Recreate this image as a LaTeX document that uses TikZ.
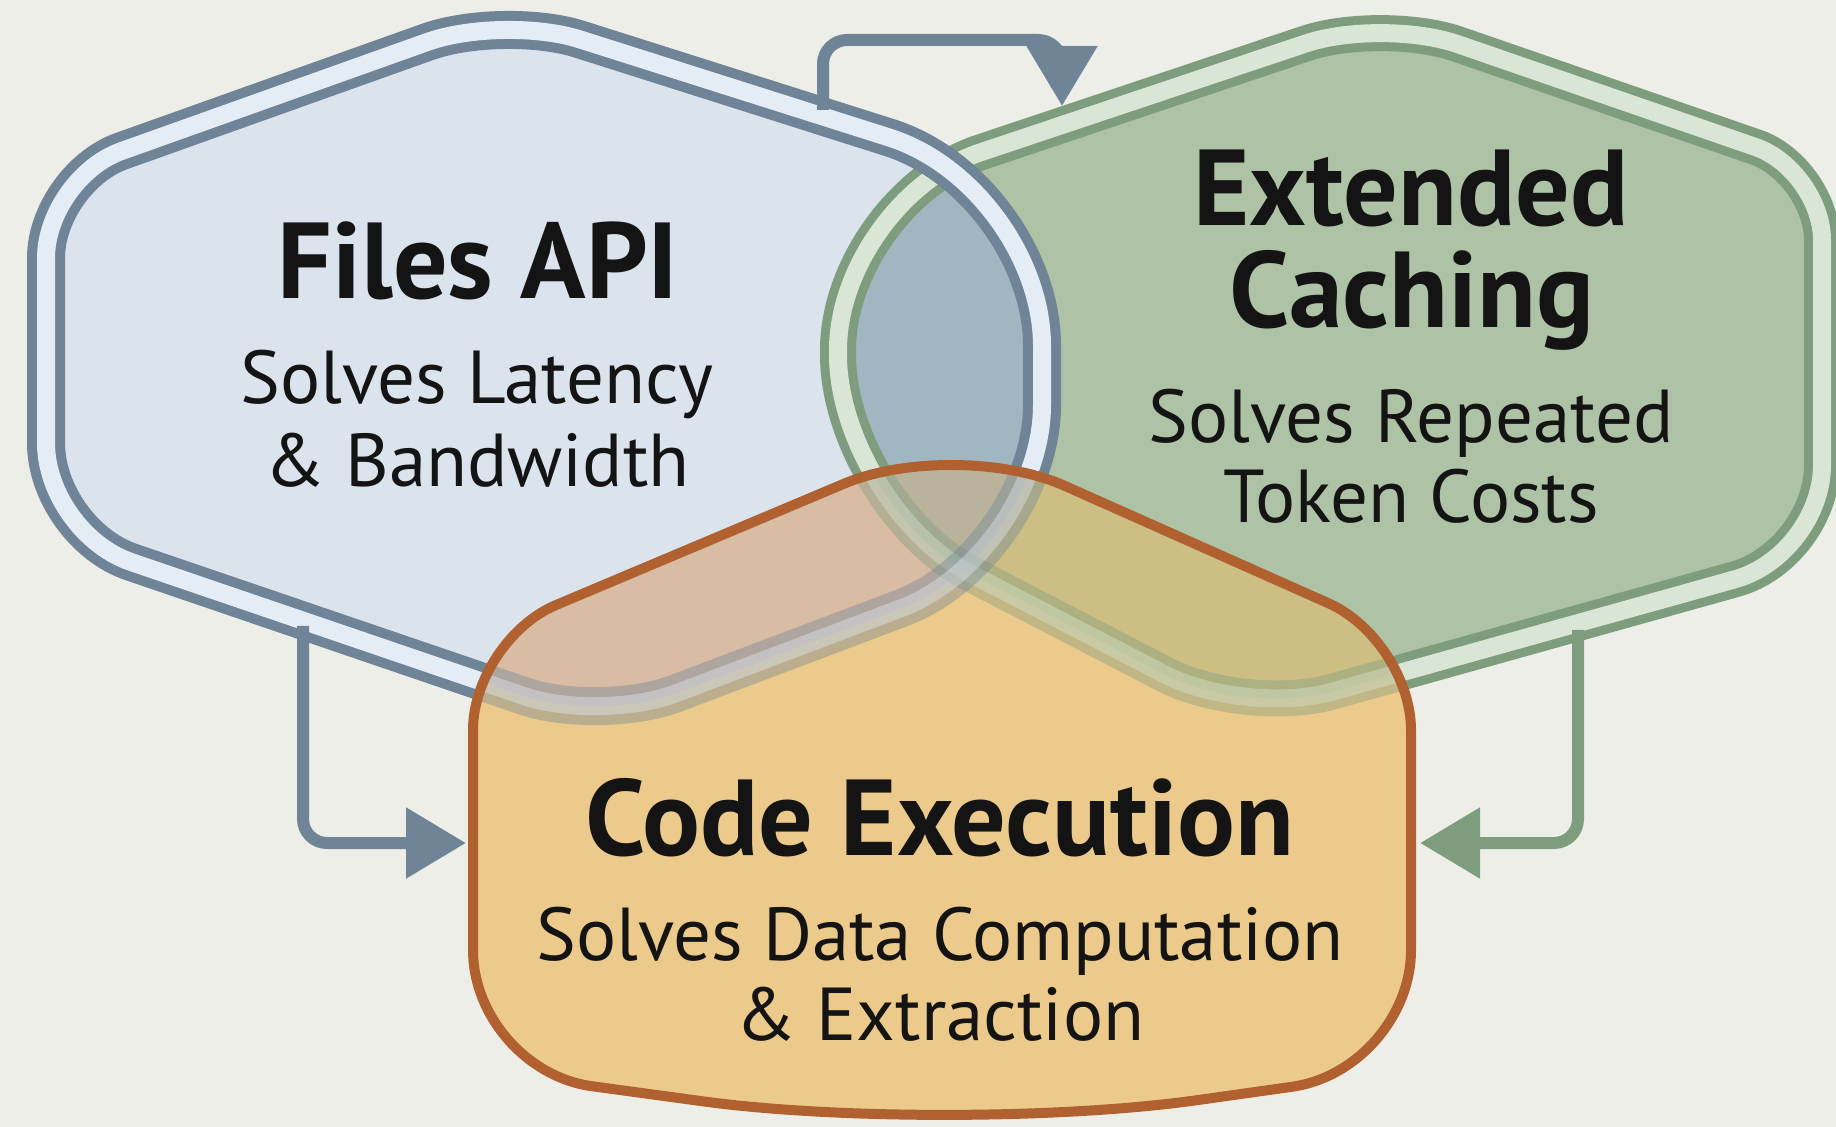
\documentclass[tikz,border=0pt]{standalone}
\usepackage{fontspec}
\setmainfont{PT Sans}
\usetikzlibrary{calc,arrows.meta}
\definecolor{bgc}{HTML}{EDEEE7}
\definecolor{bluefill}{HTML}{DBE3ED}
\definecolor{blueband}{HTML}{E4ECF6}
\definecolor{blueline}{HTML}{6F8497}
\definecolor{greenfill}{HTML}{AEC2A5}
\definecolor{greenband}{HTML}{DAE6D5}
\definecolor{greenline}{HTML}{7E9C7E}
\definecolor{orangefill}{HTML}{ECCA8B}
\definecolor{orangeline}{HTML}{B1612F}
\definecolor{bgov}{HTML}{A0B7C1}
\definecolor{boov}{HTML}{D8BCA4}
\definecolor{goov}{HTML}{CDBF84}
\definecolor{triov}{HTML}{B9B39C}
\definecolor{ink}{HTML}{141414}
% rounded corner: prev, vertex, next, cut distance, control distance
\newcommand{\rc}[5]{-- ($(#2)!#4!(#1)$) .. controls ($(#2)!#5!(#1)$) and ($(#2)!#5!(#3)$) .. ($(#2)!#4!(#3)$)}
\def\bluepath{($(bUL)!0.5!(bT)$) \rc{bUL}{bT}{bUR}{40pt}{18pt} \rc{bT}{bUR}{bLR}{80pt}{36pt} \rc{bUR}{bLR}{bB}{75pt}{34pt} \rc{bLR}{bB}{bLL}{40pt}{18pt} \rc{bB}{bLL}{bUL}{45pt}{20pt} \rc{bLL}{bUL}{bT}{40pt}{18pt} -- cycle}
\def\greenpath{($(gUL)!0.5!(gT)$) \rc{gUL}{gT}{gUR}{40pt}{18pt} \rc{gT}{gUR}{gLR}{35pt}{16pt} \rc{gUR}{gLR}{gB}{45pt}{20pt} \rc{gLR}{gB}{gLL}{45pt}{20pt} \rc{gB}{gLL}{gUL}{75pt}{34pt} \rc{gLL}{gUL}{gT}{75pt}{34pt} -- cycle}
\def\orangepath{($(oUL)!0.5!(oT)$) \rc{oUL}{oT}{oUR}{60pt}{27pt} \rc{oT}{oUR}{oLR}{45pt}{20pt} \rc{oUR}{oLR}{oB}{60pt}{27pt} \rc{oLR}{oB}{oLL}{125pt}{56pt} \rc{oB}{oLL}{oUL}{60pt}{27pt} \rc{oLL}{oUL}{oT}{45pt}{20pt} -- cycle}
\tikzset{
 bline/.style={draw=blueline, line width=5pt, double=blueband, double distance=9pt, line join=round},
 gline/.style={draw=greenline, line width=4.5pt, double=greenband, double distance=9pt, line join=round},
 oline/.style={draw=orangeline, line width=5pt, line join=round},
 conn/.style={line width=6pt, rounded corners=12pt, -{Triangle[length=30pt,width=34pt]}},
 ttl/.style={anchor=base, text=ink, font=\bfseries\fontsize{54}{60}\selectfont},
 subt/.style={anchor=base, text=ink, font=\fontsize{37.5}{45}\selectfont},
}
\begin{document}
\begin{tikzpicture}[x=0.5pt,y=-0.5pt]
\useasboundingbox (0,0) rectangle (1836,1127);
\fill[bgc] (0,0) rectangle (1836,1127);
% shape vertices
\coordinate (bT) at (503,15);
\coordinate (bUR) at (1042,186);
\coordinate (bLR) at (1042,555);
\coordinate (bB) at (600,722);
\coordinate (bLL) at (46,533);
\coordinate (bUL) at (46,178);
\coordinate (gT) at (1382,18);
\coordinate (gUR) at (1822,170);
\coordinate (gLR) at (1822,555);
\coordinate (gB) at (1245,716);
\coordinate (gLL) at (838,505);
\coordinate (gUL) at (838,200);
\coordinate (oT) at (955,437);
\coordinate (oUR) at (1411,640);
\coordinate (oLR) at (1411,1070);
\coordinate (oB) at (950,1135);
\coordinate (oLL) at (473,1070);
\coordinate (oUL) at (473,640);
% fills
\fill[bluefill] \bluepath;
\fill[greenfill] \greenpath;
\fill[orangefill] \orangepath;
\begin{scope}
 \clip \bluepath;
 \fill[bgov] \greenpath;
\end{scope}
\begin{scope}
 \clip \orangepath;
 \fill[boov] \bluepath;
 \fill[goov] \greenpath;
 \clip \bluepath;
 \fill[triov] \greenpath;
\end{scope}
% outlines
\begin{scope}[even odd rule]
 \clip (-20,-20) rectangle (1860,1150) \orangepath;
 \draw[gline] \greenpath;
 \draw[bline] \bluepath;
\end{scope}
\begin{scope}
 \clip \orangepath;
 \draw[gline, opacity=0.4] \greenpath;
 \draw[bline, opacity=0.4] \bluepath;
\end{scope}
\draw[oline] \orangepath;
% connectors
\coordinate (a1s) at (823,110);
\coordinate (a1e) at (1062,106);
\coordinate (a2s) at (303,626);
\coordinate (a2e) at (466,843);
\coordinate (a3s) at (1578,630);
\coordinate (a3e) at (1420,843);
\draw[conn, blueline] (a1s) -- ++(0,-70) -| (a1e);
\draw[conn, blueline] (a2s) |- (a2e);
\draw[conn, greenline] (a3s) |- (a3e);
% texts
\node[ttl] (t1) at (478,299) {Files API};
\node[subt] (s1a) at (477,404) {Solves Latency};
\node[subt] (s1b) at (477,487) {\& Bandwidth};
\node[ttl] (t2a) at (1411,226) {Extended};
\node[ttl] (t2b) at (1412,328) {Caching};
\node[subt] (s2a) at (1411,443) {Solves Repeated};
\node[subt] (s2b) at (1411,523) {Token Costs};
\node[ttl] (t3) at (940,855) {Code Execution};
\node[subt] (s3a) at (940,960) {Solves Data Computation};
\node[subt] (s3b) at (940,1040) {\& Extraction};
\end{tikzpicture}
\end{document}
